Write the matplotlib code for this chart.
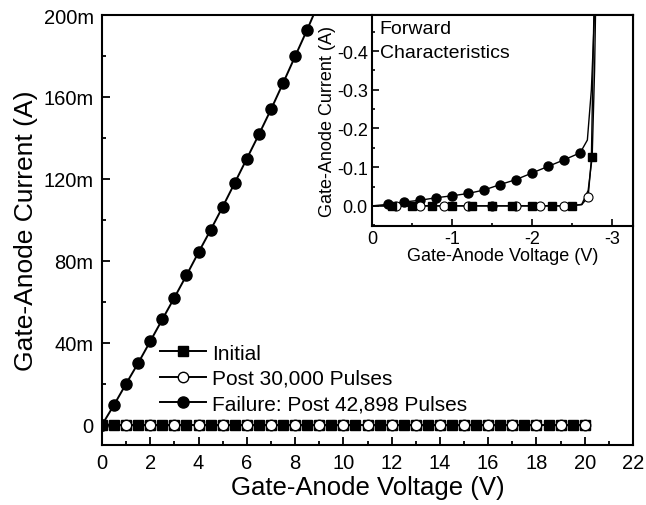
import numpy as np
import matplotlib
matplotlib.use('Agg')
import matplotlib.pyplot as plt
from matplotlib.ticker import MultipleLocator, FuncFormatter

plt.rcParams['font.family'] = ['Liberation Sans', 'DejaVu Sans']

# main plot: reverse sweep, 0..20 V
v_init = np.arange(0, 20.01, 0.5)
i_init = np.zeros(len(v_init))
v_post = np.arange(0, 20.01, 1.0)
i_post = np.zeros(len(v_post))
v_fail = [0, 0.5, 1.0, 1.5, 2.0, 2.5, 3.0, 3.5, 4.0, 4.5, 5.0, 5.5, 6.0, 6.5, 7.0, 7.5, 8.0, 8.5, 9.0]
i_fail = [0, 9.8, 20.1, 30.2, 40.8, 51.5, 62.1, 73.0, 84.2, 95.1, 106.4, 118.1,
          129.9, 141.7, 153.9, 166.7, 179.8, 192.8, 206.5]  # mA
i_fail = [x / 1000 for x in i_fail]

# inset: forward characteristics (markers)
fv_init = [-0.25, -0.5, -0.75, -1.0, -1.25, -1.5, -1.75, -2.0, -2.25, -2.5, -2.75]
fi_init = [0, 0, 0, 0, 0, 0, 0, 0, 0, 0, -0.126]
fv_post = [-0.3, -0.6, -0.9, -1.2, -1.5, -1.8, -2.1, -2.4, -2.7]
fi_post = [0, 0, 0, 0, 0, 0, 0, 0, -0.024]
fv_fail = [-0.2, -0.4, -0.6, -0.8, -1.0, -1.2, -1.4, -1.6, -1.8, -2.0, -2.2, -2.4, -2.6]
fi_fail = [-0.004, -0.010, -0.0145, -0.021, -0.026, -0.032, -0.041, -0.055,
           -0.068, -0.085, -0.102, -0.119, -0.137]
# inset curves (continuous measurement)
cv_init = [0] + fv_init[:-1] + [-2.62, -2.70, -2.75, -2.78, -2.80]
ci_init = [0] + fi_init[:-1] + [-0.004, -0.04, -0.126, -0.35, -0.60]
cv_post = [0] + fv_post[:-1] + [-2.62, -2.7, -2.74, -2.78]
ci_post = [0] + fi_post[:-1] + [-0.003, -0.024, -0.12, -0.60]
cv_fail = [0] + fv_fail + [-2.69, -2.74, -2.80]
ci_fail = [0] + fi_fail + [-0.17, -0.30, -0.60]

fig = plt.figure(figsize=(6.46, 5.06), dpi=100)
ax = fig.add_axes([102/646, 1-446/506, 531/646, 430/506])

ax.plot(v_init, i_init, '-', color='black', lw=1.4, marker='s', ms=6.5,
        mfc='black', mec='black', label='Initial')
ax.plot(v_post, i_post, '-', color='black', lw=1.4, marker='o', ms=7.5,
        mfc='white', mec='black', mew=1.0, label='Post 30,000 Pulses')
ax.plot(v_fail, i_fail, '-', color='black', lw=1.4, marker='o', ms=8,
        mfc='black', mec='black', label='Failure: Post 42,898 Pulses')

ax.set_xlim(0, 22)
ax.set_ylim(-0.0098, 0.2)
ax.xaxis.set_major_locator(MultipleLocator(2))
ax.xaxis.set_minor_locator(MultipleLocator(1))
ax.yaxis.set_major_locator(MultipleLocator(0.04))
ax.yaxis.set_minor_locator(MultipleLocator(0.02))
ax.yaxis.set_major_formatter(FuncFormatter(lambda v, p: '0' if abs(v) < 1e-9 else f'{v*1000:.0f}m'))
ax.tick_params(which='both', direction='in', width=1.3, labelsize=14.5)
ax.tick_params(which='major', length=6, pad=6)
ax.tick_params(which='minor', length=3)
for s in ax.spines.values():
    s.set_linewidth(1.5)
ax.set_xlabel('Gate-Anode Voltage (V)', fontsize=18.5, labelpad=2)
ax.set_ylabel('Gate-Anode Current (A)', fontsize=19, labelpad=4)

leg = ax.legend(loc='lower left', bbox_to_anchor=(0.09, 0.05), frameon=False,
                fontsize=15, handlelength=2.2, handletextpad=0.3,
                labelspacing=0.3, borderpad=0)

# inset
ins = fig.add_axes([372/646, 1-227/506, 261/646, 211/506])
ins.plot(cv_post, ci_post, '-', color='black', lw=1.0)
ins.plot(cv_init, ci_init, '-', color='black', lw=1.0)
ins.plot(cv_fail, ci_fail, '-', color='black', lw=1.0)
ins.plot(fv_fail, fi_fail, ls='none', marker='o', ms=6.5, mfc='black', mec='black')
ins.plot(fv_post, fi_post, ls='none', marker='o', ms=6.5, mfc='white', mec='black', mew=0.8)
ins.plot(fv_init, fi_init, ls='none', marker='s', ms=5.5, mfc='black', mec='black')
ins.set_xlim(0, -3.26)
ins.set_ylim(0.052, -0.493)
ins.xaxis.set_major_locator(MultipleLocator(1))
ins.xaxis.set_minor_locator(MultipleLocator(0.5))
ins.yaxis.set_major_locator(MultipleLocator(0.1))
ins.yaxis.set_minor_locator(MultipleLocator(0.05))
ins.xaxis.set_major_formatter(FuncFormatter(lambda v, p: '0' if abs(v) < 1e-9 else f'{v:.0f}'))
ins.yaxis.set_major_formatter(FuncFormatter(lambda v, p: '0.0' if abs(v) < 1e-9 else f'{v:.1f}'))
ins.tick_params(which='both', direction='in', width=1.2, labelsize=13)
ins.tick_params(which='major', length=5, pad=3)
ins.tick_params(which='minor', length=2.5)
for s in ins.spines.values():
    s.set_linewidth(1.5)
ins.set_xlabel('Gate-Anode Voltage (V)', fontsize=13, labelpad=0)
ins.set_ylabel('Gate-Anode Current (A)', fontsize=13, labelpad=1)
ins.text(0.03, 0.975, 'Forward\nCharacteristics', transform=ins.transAxes,
         fontsize=14, va='top', ha='left', linespacing=1.5)

fig.savefig('out.png', dpi=100)
